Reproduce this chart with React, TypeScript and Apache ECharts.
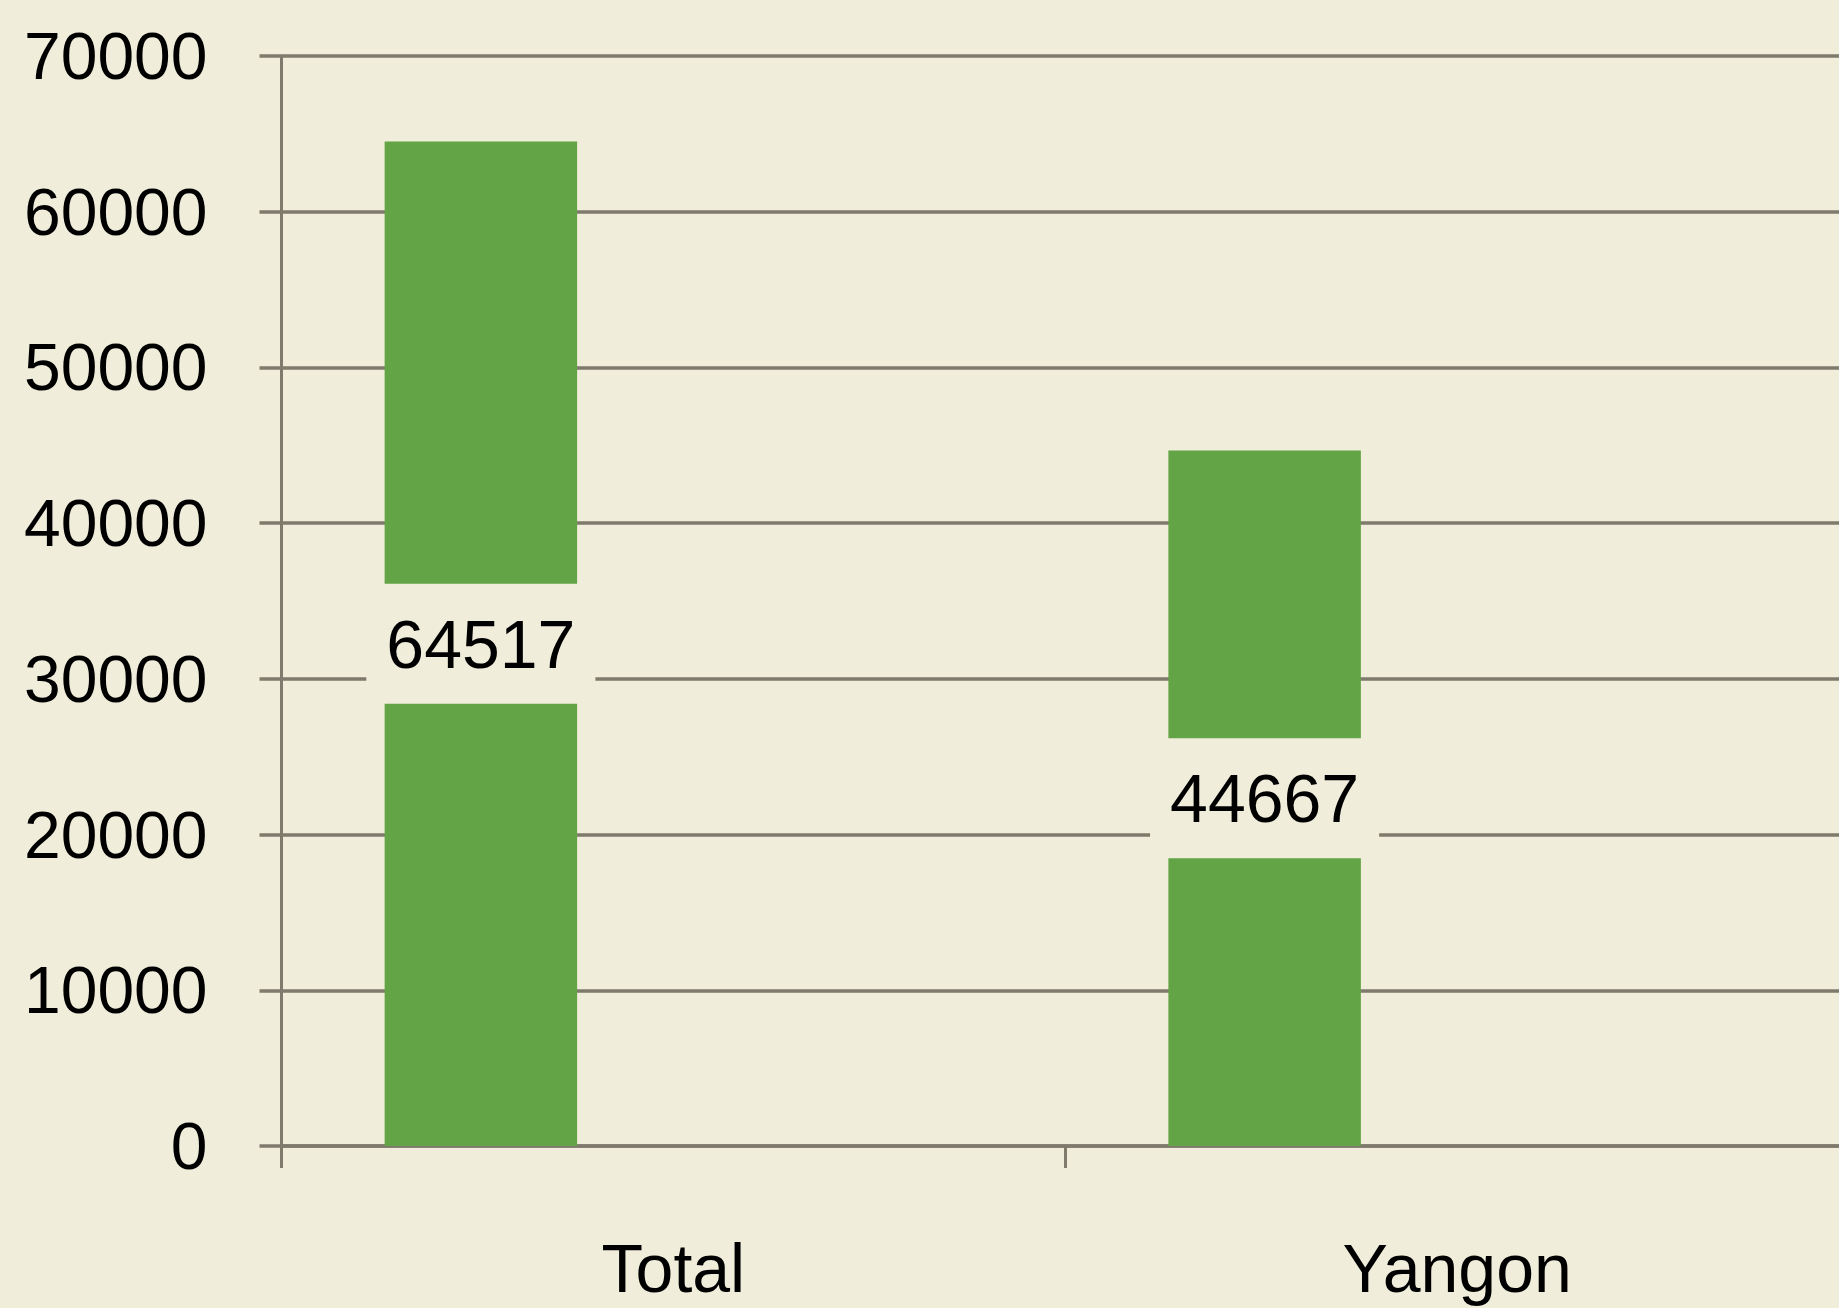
import React, { useEffect, useRef } from "react";
import * as echarts from "echarts";

const categories = ["Total", "Yangon"];
const values = [64517, 44667];
const emptyA = [null, null];
const emptyB = [null, null];
const yTicks = [0, 10000, 20000, 30000, 40000, 50000, 60000, 70000];

const BG = "#F0EDDB";
const LINE = "#7F7A6C";
const GREEN = "#62A446";
const FONT = "'Liberation Sans', Arial, sans-serif";
const W = 1849;
const H = 1308;

export default function App() {
  const ref = useRef<HTMLDivElement>(null);
  useEffect(() => {
    document.documentElement.style.overflow = "hidden";
    document.body.style.overflow = "hidden";
    document.body.style.margin = "0";
    if (!ref.current) return;
    const chart = echarts.init(ref.current, undefined, { renderer: "svg" });
    chart.setOption({
      animation: false,
      backgroundColor: BG,
      grid: { left: 281.5, top: 56, right: 0, bottom: 162, containLabel: false },
      xAxis: {
        type: "category",
        data: categories,
        axisLine: { show: true, lineStyle: { color: LINE, width: 3.5 } },
        axisTick: { show: true, alignWithLabel: false, length: 22, lineStyle: { color: LINE, width: 3 } },
        axisLabel: { color: "#000", fontFamily: FONT, fontSize: 68, margin: 88 },
        splitLine: { show: false },
      },
      yAxis: {
        type: "value",
        min: yTicks[0],
        max: yTicks[yTicks.length - 1],
        interval: 10000,
        axisLine: { show: true, lineStyle: { color: LINE, width: 3 } },
        axisTick: { show: true, length: 22, lineStyle: { color: LINE, width: 3.5 } },
        axisLabel: {
          color: "#000",
          fontFamily: FONT,
          fontSize: 66,
          margin: 74,
          formatter: (v: number) => String(v),
        },
        splitLine: { show: true, lineStyle: { color: LINE, width: 3.5 } },
      },
      series: [
        {
          type: "bar",
          data: values,
          barWidth: 192.5,
          barGap: "0%",
          itemStyle: { color: GREEN },
          label: {
            show: true,
            position: "inside",
            color: "#000",
            fontFamily: FONT,
            fontSize: 68,
            lineHeight: 80,
            backgroundColor: BG,
            padding: [20, 20],
            formatter: (p: any) => String(p.value),
          },
        },
        { type: "bar", data: emptyA, barWidth: 192.5, barGap: "0%" },
        { type: "bar", data: emptyB, barWidth: 192.5, barGap: "0%" },
      ],
    });
    return () => chart.dispose();
  }, []);
  return (
    <div
      ref={ref}
      style={{ position: "fixed", left: 0, top: 0, width: W, height: H }}
    />
  );
}
